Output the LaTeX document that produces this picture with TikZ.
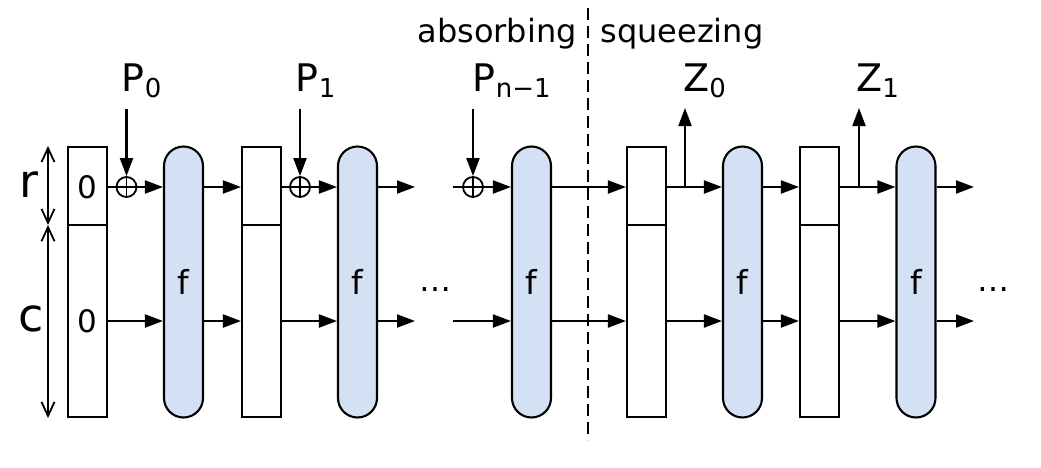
\documentclass[tikz,border=0pt]{standalone}
\usepackage{fontspec}
\setmainfont{DejaVu Sans}
\usetikzlibrary{arrows.meta,positioning}
\definecolor{lightblue}{RGB}{212,224,243}
\newcommand{\lowsub}[1]{\raisebox{-3pt}{\fontsize{13}{13}\selectfont #1}}

\begin{document}
\begin{tikzpicture}[x=0.5pt,y=-0.5pt,
    st/.style={rectangle,draw,line width=1.05pt,minimum width=19.5pt,
      minimum height=135pt,inner sep=0pt},
    fn/.style={rectangle,draw,fill=lightblue,line width=1.05pt,rounded corners=9.75pt,
      minimum width=19.5pt,minimum height=135.5pt,inner sep=0pt,
      font=\fontsize{16.5}{16.5}\selectfont},
    xr/.style={circle,draw,line width=0.9pt,minimum size=10pt,inner sep=0pt,
      path picture={\draw[line width=0.9pt]
        (path picture bounding box.north) -- (path picture bounding box.south)
        (path picture bounding box.west) -- (path picture bounding box.east);}},
    lbl/.style={font=\fontsize{19}{19}\selectfont,inner sep=0pt,anchor=base west},
    zero/.style={font=\fontsize{15.5}{15.5}\selectfont,inner sep=0pt},
    barb/.style={{Straight Barb[length=7pt,width=6.5pt]}-{Straight Barb[length=7pt,width=6.5pt]},
      line width=0.9pt},
    l/.style={line width=1.05pt},
    a/.style={-{Triangle[length=9pt,width=6.5pt]},line width=1.05pt}]
    \useasboundingbox (0,0) rectangle (1041,467);
    \coordinate (r) at (0,187);
    \coordinate (c) at (0,321);
    \coordinate (d) at (0,225);
    \coordinate (ptop) at (0,109);
    \coordinate (dim) at (48,0);
    % states and permutations
    \node[st] (s0) at (87.5,282) {};
    \node[fn] (f0) at (183.5,282) {f};
    \node[st] (s1) at (261.5,282) {};
    \node[fn] (f1) at (357.5,282) {f};
    \node[fn] (f2) at (531.5,282) {f};
    \node[st] (s2) at (646.5,282) {};
    \node[fn] (f3) at (742.5,282) {f};
    \node[st] (s3) at (819.5,282) {};
    \node[fn] (f4) at (916,282) {f};
    \foreach \s in {s0,s1,s2,s3} \draw[l] (\s.west |- d) -- (\s.east |- d);
    \node[zero] (z0) at (s0 |- r) {0};
    \node[zero] (z1) at (s0 |- c) {0};
    % r and c
    \node[font=\fontsize{23}{23}\selectfont,anchor=base] (rl) at (29,197) {r};
    \node[font=\fontsize{23}{23}\selectfont,anchor=base] (cl) at (31,331) {c};
    \draw[barb] (dim |- s0.north) -- (dim |- d);
    \draw[barb] (dim |- d) -- (dim |- s0.south);
    % xor
    \node[xr] (x0) at (126.5,187) {};
    \node[xr] (x1) at (300,187) {};
    \node[xr] (x2) at (473,187) {};
    % inputs and outputs
    \node[lbl] (p0) at (121.5,91) {P\lowsub{0}};
    \node[lbl] (p1) at (295.5,91) {P\lowsub{1}};
    \node[lbl] (p2) at (472.5,91) {P\lowsub{n−1}};
    \node[lbl] (q0) at (683,91) {Z\lowsub{0}};
    \node[lbl] (q1) at (856,91) {Z\lowsub{1}};
    \draw[a] (x0 |- ptop) -- (x0);
    \draw[a] (x1 |- ptop) -- (x1);
    \draw[a] (x2 |- ptop) -- (x2);
    \coordinate (zt0) at (685,108);
    \coordinate (zt1) at (859,108);
    \draw[a] (zt0 |- r) -- (zt0);
    \draw[a] (zt1 |- r) -- (zt1);
    % r row
    \draw[l] (s0.east |- r) -- (x0); \draw[a] (x0) -- (f0.west |- r);
    \draw[a] (f0.east |- r) -- (s1.west |- r);
    \draw[l] (s1.east |- r) -- (x1); \draw[a] (x1) -- (f1.west |- r);
    \coordinate (e0r) at (415,187);
    \coordinate (b0r) at (453,187);
    \draw[a] (f1.east |- r) -- (e0r);
    \draw[l] (b0r) -- (x2); \draw[a] (x2) -- (f2.west |- r);
    \draw[a] (f2.east |- r) -- (s2.west |- r);
    \draw[a] (s2.east |- r) -- (f3.west |- r);
    \draw[a] (f3.east |- r) -- (s3.west |- r);
    \draw[a] (s3.east |- r) -- (f4.west |- r);
    \coordinate (e1r) at (974,187);
    \draw[a] (f4.east |- r) -- (e1r);
    % c row
    \draw[a] (s0.east |- c) -- (f0.west |- c);
    \draw[a] (f0.east |- c) -- (s1.west |- c);
    \draw[a] (s1.east |- c) -- (f1.west |- c);
    \coordinate (e0c) at (415,321);
    \coordinate (b0c) at (453,321);
    \draw[a] (f1.east |- c) -- (e0c);
    \draw[a] (b0c) -- (f2.west |- c);
    \draw[a] (f2.east |- c) -- (s2.west |- c);
    \draw[a] (s2.east |- c) -- (f3.west |- c);
    \draw[a] (f3.east |- c) -- (s3.west |- c);
    \draw[a] (s3.east |- c) -- (f4.west |- c);
    \coordinate (e1c) at (974,321);
    \draw[a] (f4.east |- c) -- (e1c);
    \node[font=\fontsize{16}{16}\selectfont,inner sep=0pt] (dots0) at (435,290) {…};
    \node[font=\fontsize{16}{16}\selectfont,inner sep=0pt] (dots1) at (993,290) {…};
    % phases
    \coordinate (dtop) at (588,8);
    \coordinate (dbot) at (588,440);
    \draw[dash pattern=on 6pt off 3pt,line width=0.8pt] (dtop) -- (dbot);
    \node[font=\fontsize{16}{16}\selectfont,inner sep=0pt,anchor=base east] (abs) at (577,42) {absorbing};
    \node[font=\fontsize{16}{16}\selectfont,inner sep=0pt,anchor=base west] (sqz) at (600,42) {squeezing};
  \end{tikzpicture}
\end{document}
